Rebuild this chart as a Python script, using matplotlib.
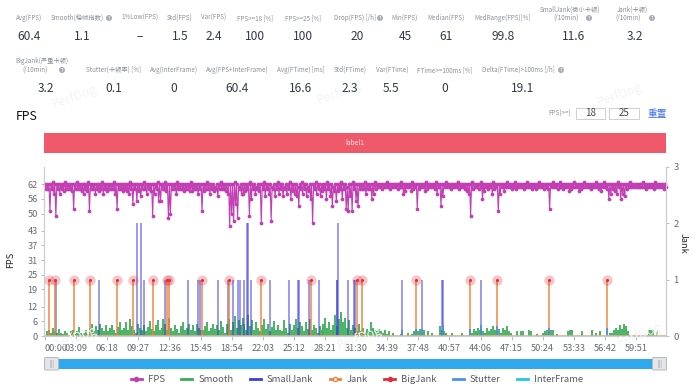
import numpy as np
import matplotlib
matplotlib.use("Agg")
import matplotlib.pyplot as plt
from matplotlib.lines import Line2D
from matplotlib.patches import Rectangle, Circle, FancyBboxPatch

plt.rcParams['font.family'] = ['Noto Sans CJK SC', 'DejaVu Sans']

SAMPLE_SECONDS = 12

# lowest FPS read in each 12 s slice
fps_low_values = [
    60,60,51,60,58,49,60,58,60,59,60,60,60,59,52,60,60,60,59,58,
    60,59,51,60,60,58,60,59,60,58,60,59,60,60,60,58,52,60,60,59,
    60,59,58,60,54,60,55,59,57,60,60,58,60,59,49,58,60,55,55,60,
    60,59,48,50,60,60,58,60,60,60,59,60,60,59,59,60,60,58,60,51,
    59,60,60,58,60,59,60,57,60,60,60,59,58,45,50,47,54,48,60,58,
    58,59,60,49,56,60,58,60,59,46,60,57,60,58,47,60,57,60,58,60,
    57,60,58,60,56,59,58,57,53,60,58,60,57,59,56,46,60,58,60,57,
    59,60,56,60,57,53,59,55,59,60,56,60,52,51,57,51,60,55,53,60,
    60,60,58,60,60,56,58,60,61,61,60,61,61,61,60,61,61,61,60,61,
    61,58,59,61,61,59,60,61,52,60,61,61,59,60,61,61,61,60,58,61,
    53,57,61,61,61,60,61,61,61,60,61,61,60,59,58,49,60,61,61,60,
    61,56,59,61,60,61,58,60,61,51,58,61,59,61,61,61,60,61,60,61,
    61,61,60,61,61,61,60,61,60,61,61,61,60,61,60,52,61,61,61,60,
    61,61,60,61,61,59,60,61,61,61,59,60,61,61,61,61,60,61,61,61,
    60,59,61,61,60,56,58,60,59,58,61,56,58,57,60,61,61,61,61,61,
    61,61,61,61,60,61,61,61,60,61,61,61,61,60,61,
]
# highest FPS read in each 12 s slice
fps_high_values = [
    62,62,62,62,63,62,62,62,62,62,63,62,62,62,62,62,63,62,62,62,
    62,62,63,62,62,62,62,62,62,63,62,62,62,62,62,63,62,62,62,62,
    62,62,62,63,62,62,62,62,62,62,63,62,62,62,62,62,62,63,62,62,
    62,63,62,62,62,62,62,63,62,62,62,62,62,62,63,62,62,62,62,62,
    62,62,63,62,62,62,61,62,62,63,62,62,62,62,62,62,63,62,61,62,
    62,62,62,62,63,62,62,61,62,62,62,63,62,62,62,61,62,62,63,62,
    62,61,62,62,63,62,62,62,61,62,63,62,62,61,62,62,62,63,62,62,
    61,62,62,63,62,62,61,62,62,62,63,62,62,61,62,62,63,62,62,62,
    62,62,63,62,62,62,62,63,62,62,62,62,62,63,62,62,62,62,62,62,
    63,62,62,62,62,62,63,62,62,62,62,62,62,63,62,62,62,62,63,62,
    62,62,62,63,62,62,62,62,62,63,62,62,62,62,62,62,63,62,62,62,
    62,63,62,62,62,62,62,63,62,62,62,62,62,62,63,62,62,62,63,62,
    62,62,62,62,63,62,62,62,62,62,63,62,62,62,62,62,62,63,62,62,
    62,63,62,62,62,62,62,62,63,62,62,62,62,63,62,62,62,62,62,63,
    62,62,62,63,62,62,62,62,62,62,63,62,62,62,62,62,63,62,62,62,
    62,62,62,63,62,62,62,62,62,63,62,62,62,62,62,
]
smooth_values = [
    0,8,11,5,15,9,5,12,6,3,9,5,0,8,11,4,9,16,6,3,
    6,10,4,15,21,9,18,11,22,15,9,19,8,14,20,11,6,16,24,10,
    15,25,11,31,18,10,6,22,14,11,20,9,16,26,12,8,19,28,10,15,
    30,22,11,32,15,9,20,12,6,18,25,10,15,21,11,19,8,22,14,11,
    10,18,25,9,15,22,12,20,11,26,16,6,21,31,11,25,35,15,28,19,
    32,22,11,38,18,28,10,24,14,8,20,30,12,21,9,16,26,11,19,10,
    8,28,15,5,22,11,20,30,14,25,18,9,24,12,31,10,20,15,5,18,
    11,22,32,15,25,10,19,38,18,30,42,24,32,15,28,11,20,14,9,22,
    8,15,5,12,8,25,15,10,8,12,9,5,10,4,8,0,6,0,0,0,
    4,10,0,0,6,0,4,9,11,8,12,5,10,0,8,0,5,0,0,0,
    18,10,8,5,0,0,5,0,0,0,0,6,0,0,0,10,6,12,9,15,
    10,12,8,6,15,9,12,18,11,8,12,6,15,11,18,9,5,0,0,8,
    0,9,8,0,0,10,8,0,0,4,0,0,6,9,10,11,10,11,0,4,
    0,0,0,0,0,9,11,10,0,0,0,0,8,0,0,0,0,10,0,6,
    0,8,0,0,0,0,6,5,11,15,10,19,12,22,18,8,0,0,0,0,
    0,0,0,0,0,0,10,11,10,0,8,0,0,0,0,
]
small_jank_times = [64,328,559,581,601,731,867,930,942,1053,1112,1140,1173,1185,1211,1229,1233,1252,
                    1367,1482,1539,1545,1604,1663,1772,1776,1780,1839,1875,1881,2169,2290,2414,2418,2651]
small_jank_values = [1,1,2,2,1,1,1,1,1,1,1,1,1,1,1,2,2,1,
                     1,1,1,1,1,1,1,1,2,1,1,1,1,1,1,1,1]
jank_times = [24,59,174,272,439,535,654,743,755,952,1116,1312,1618,1894,1926,2256,2584,2748,3060,3414]
jank_values = [1,1,1,1,1,1,1,1,1,1,1,1,1,1,1,1,1,1,1,1]
big_jank_times = [24,59,174,272,439,535,654,743,755,952,1116,1312,1618,1894,1926,2256,2584,2748,3060,3414]
big_jank_values = [1,1,1,1,1,1,1,1,1,1,1,1,1,1,1,1,1,1,1,1]
stutter_times = [2169,2256,2290,2418,2584,2651,2748,3060,3414]
stutter_values = [0.10,0.12,0.12,0.20,0.12,0.20,0.17,0.15,0.15]

fps_ticks = [0,6,12,19,25,31,37,43,50,56,62]
time_tick_labels = ["00:00","03:09","06:18","09:27","12:36","15:45","18:54","22:03","25:12","28:21",
                    "31:30","34:39","37:48","40:57","44:06","47:15","50:24","53:33","56:42","59:51"]
series_names = ["FPS","Smooth","SmallJank","Jank","BigJank","Stutter","InterFrame"]

row1_labels = [("Avg(FPS)",29),("Smooth(稳帧指数)",77),("1%Low(FPS)",140),("Std(FPS)",180),("Var(FPS)",214),
               ("FPS>=18 [%]",255),("FPS>=25 [%]",303),("Drop(FPS) [/h]",355),("Min(FPS)",405),
               ("Median(FPS)",446),("MedRange(FPS)[%]",503)]
row1_values = [("60.4",29),("1.1",82),("–",140),("1.5",180),("2.4",214),("100",255),("100",303),("20",357),
               ("45",405),("61",446),("99.8",503),("11.6",574),("3.2",635)]
row2_labels = [("Stutter(卡顿率) [%]",114),("Avg(InterFrame)",174),("Avg(FPS+InterFrame)",237),("Avg(FTime) [ms]",301),
               ("Std(FTime)",350),("Var(FTime)",392),("FTime>=100ms [%]",445),("Delta(FTime)>100ms [/h]",518)]
row2_values = [("3.2",46),("0.1",114),("0",174),("60.4",237),("16.6",301),("2.3",350),("5.5",391),("0",445),("19.1",523)]

C_FPS, C_SM, C_SJ, C_J, C_BJ, C_ST, C_IF = "#c23fb3","#38ad55","#3d3de0","#f0803c","#e0303c","#4a90e8","#22c8e8"
GREY = "#8a8f98"

fig = plt.figure(figsize=(7.0, 3.88), dpi=100, facecolor="white")
W, H = 700, 388

# page layer, in reference pixel coordinates
pg = fig.add_axes([0, 0, 1, 1], zorder=5)
pg.set_xlim(0, W); pg.set_ylim(H, 0); pg.axis("off"); pg.patch.set_alpha(0)

def qmark(x, y):
    pg.add_patch(Circle((x, y), 3, color="#a9adb5", lw=0))
    pg.text(x, y, "?", fontsize=3.8, color="white", ha="center", va="center")

for t, x in row1_labels:
    pg.text(x, 18, t, fontsize=4.5, color=GREY, ha="center", va="center")
for t, x, y in [("SmallJank(微小卡顿)",570,10),("(/10min)",566,18),("Jank(卡顿)",632,10),("(/10min)",628,18),
                ("BigJank(严重卡顿)",42,61),("(/10min)",35,70)]:
    pg.text(x, y, t, fontsize=4.5, color=GREY, ha="center", va="center")
for t, x in row2_labels:
    pg.text(x, 70, t, fontsize=4.5, color=GREY, ha="center", va="center")
for x, y in [(109,18),(380,18),(589,18),(652,18),(62,70),(561,70)]:
    qmark(x, y)
for t, x in row1_values:
    pg.text(x, 37, t, fontsize=8.6, color="#333a45", ha="center", va="center", fontweight="medium")
for t, x in row2_values:
    pg.text(x, 89, t, fontsize=8.6, color="#333a45", ha="center", va="center", fontweight="medium")

pg.text(16, 116, "FPS", fontsize=8.8, color="#111111", ha="left", va="center", fontweight="medium")
pg.text(560, 114, "FPS(>=)", fontsize=4.6, color=GREY, ha="center", va="center")
for x0, x1, t in [(576,605,"18"),(609,639,"25")]:
    pg.add_patch(Rectangle((x0,108), x1-x0, 11, fc="white", ec="#c4c7cc", lw=0.6))
    pg.text((x0+x1)/2, 113.5, t, fontsize=7, color="#444444", ha="center", va="center")
pg.text(657, 114, "重置", fontsize=7, color="#3a6fe8", ha="center", va="center")

pg.add_patch(Rectangle((44,133), 622, 20, fc="#f0596a", ec="none"))
pg.text(355, 143, "label1", fontsize=4.8, color="#ffe8ea", ha="center", va="center")

# watermark
for x, y in [(75,97),(340,93),(620,95),(75,338),(360,338),(640,335)]:
    pg.text(x, y, "PerfDog", fontsize=9, color="#f3f4f5", rotation=20, ha="center", va="center", zorder=0)

# slider
pg.add_patch(Rectangle((44,359), 622, 10, fc="#2fa8ee", ec="none"))
for x0 in (44, 652):
    pg.add_patch(FancyBboxPatch((x0+0.5,357.5), 14, 12.5, boxstyle="round,pad=0,rounding_size=1.2",
                                fc="#e3e5e8", ec="#b5b8bd", lw=0.7))
    pg.text(x0+7.5, 363.5, "|||", fontsize=4.5, color="#8c9097", ha="center", va="center")

# chart
ax = fig.add_axes([44/W, 1-336/H, 622/W, 169/H], zorder=2)
ax.patch.set_alpha(0)
axr = ax.twinx()
axr.set_zorder(1); ax.set_zorder(2)

t = np.arange(len(fps_low_values)) * SAMPLE_SECONDS
# each slice is drawn as its high reading followed by its low reading
fps_t = np.column_stack([t, t + SAMPLE_SECONDS / 2]).ravel()
fps_y = np.column_stack([fps_high_values, fps_low_values]).ravel()
ts = np.arange(len(smooth_values)) * SAMPLE_SECONDS
smooth = np.array(smooth_values) / 100

ax.plot(fps_t, fps_y, color=C_FPS, lw=0.8, marker="o", ms=2.7, mew=0, clip_on=False)
ax.set_xlim(-6, 3773)
ax.set_ylim(0, 69)
ax.set_yticks(fps_ticks)
ax.set_xticks(np.arange(len(time_tick_labels)) * 189)
ax.set_xticklabels(time_tick_labels)
ax.get_xticklabels()[0].set_ha("left")
ax.set_ylabel("FPS", fontsize=6.6, color="#222222", labelpad=0)
ax.yaxis.set_label_coords(-29/622, 76/169)

axr.vlines(ts, 0, smooth, color=C_SM, lw=1.35, alpha=0.95)
axr.vlines(small_jank_times, 0, small_jank_values, color=C_SJ, lw=1.2, alpha=0.6)
axr.vlines(jank_times, 0, jank_values, color=C_J, lw=1.4, alpha=0.75)
axr.vlines(stutter_times, 0, stutter_values, color=C_ST, lw=1.4, alpha=0.9)
axr.axhline(0, color="#d9b08c", lw=1.2)
axr.scatter(big_jank_times, big_jank_values, s=55, color=C_BJ, alpha=0.28, lw=0, zorder=4)
axr.scatter(big_jank_times, big_jank_values, s=5, color=C_BJ, lw=0, zorder=5)
axr.set_ylim(0, 3)
axr.set_yticks([0, 1, 2, 3])
axr.set_ylabel("Jank", fontsize=6.6, color="#222222", rotation=270, labelpad=0)
axr.yaxis.set_label_coords(1+22/622, 93/169)

for a in (ax, axr):
    a.spines["top"].set_visible(False)
    for s in ("left", "right", "bottom"):
        a.spines[s].set_color("#c9ccd0")
        a.spines[s].set_linewidth(0.8)
    a.tick_params(axis="both", labelsize=6.6, length=2.5, width=0.6, color="#b0b3b8", labelcolor="#666b73", pad=2)
ax.tick_params(axis="x", length=3, pad=3)
axr.tick_params(axis="y", labelsize=6.8, pad=3)

# legend
handles = [
    Line2D([], [], color=C_FPS, lw=2, marker="o", ms=3),
    Line2D([], [], color=C_SM, lw=2),
    Line2D([], [], color=C_SJ, lw=2),
    Line2D([], [], color=C_J, lw=2, marker="o", ms=3, mfc="white"),
    Line2D([], [], color=C_BJ, lw=2, marker="o", ms=3),
    Line2D([], [], color=C_ST, lw=2),
    Line2D([], [], color=C_IF, lw=2),
]
fig.legend(handles, series_names, ncol=7, loc="center", bbox_to_anchor=(357/W, 1-380/H), frameon=False,
           fontsize=6.8, labelcolor="#555a62", handlelength=1.15, handletextpad=0.63, columnspacing=1.75,
           borderpad=0, borderaxespad=0)

fig.savefig("out.png", dpi=100)
